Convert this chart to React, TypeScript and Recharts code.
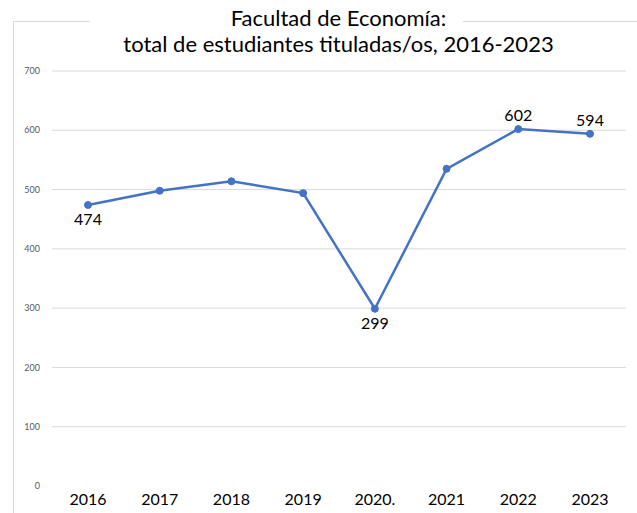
import React from "react";
import { LineChart, Line, XAxis, YAxis, ReferenceLine } from "recharts";

const years = ["2016", "2017", "2018", "2019", "2020.", "2021", "2022", "2023"];
const graduates = [474, 498, 514, 494, 299, 535, 602, 594];
const yTicks = [0, 100, 200, 300, 400, 500, 600, 700];
const titleLines = ["Facultad de Economía:", "total de estudiantes tituladas/os, 2016-2023"];

// which points show a data label, and on which side
const labelSide: Record<string, "above" | "below"> = {
  "2016": "below",
  "2020.": "below",
  "2022": "above",
  "2023": "above",
};

const data = years.map((y, i) => ({ year: y, value: graduates[i] }));

const FONT = "Lato, 'Open Sans', sans-serif";

const renderLabel = (props: any) => {
  const { x, y, value, index } = props;
  const side = labelSide[years[index]];
  if (!side) return null;
  const dy = side === "below" ? 20 : -8;
  return (
    <text x={x} y={y + dy} textAnchor="middle" fontSize={16} fill="#000" fontFamily={FONT}>
      {value}
    </text>
  );
};

export default function App() {
  return (
    <div
      style={{
        position: "absolute",
        left: 0,
        top: 0,
        width: 637,
        height: 513,
        overflow: "hidden",
        background: "#fff",
        fontFamily: FONT,
      }}
    >
      <div
        style={{
          position: "absolute",
          left: 13,
          top: 21,
          width: 800,
          height: 700,
          border: "1px solid #d9d9d9",
        }}
      />
      <div
        style={{
          position: "absolute",
          left: 90,
          top: 15,
          width: 373,
          height: 12,
          background: "#fff",
        }}
      />
      <div
        style={{
          position: "absolute",
          left: 0,
          top: 5,
          width: 677,
          textAlign: "center",
          fontSize: 22,
          lineHeight: "26px",
          color: "#000",
          zIndex: 2,
        }}
      >
        {titleLines.map((t) => (
          <div key={t}>{t}</div>
        ))}
      </div>
      <div style={{ position: "absolute", left: 0, top: 0 }}>
        <LineChart
          width={637}
          height={513}
          data={data}
          margin={{ top: 71, right: 11, left: 0, bottom: 0 }}
        >
          {yTicks
            .filter((t) => t !== 0)
            .map((t) => (
              <ReferenceLine key={t} y={t} stroke="#d9d9d9" strokeWidth={1} ifOverflow="extendDomain" />
            ))}
          <XAxis
            dataKey="year"
            height={27}
            axisLine={false}
            tickLine={false}
            padding={{ left: 36, right: 36 }}
            interval={0}
            tick={{ fontSize: 16, fill: "#000", fontFamily: FONT }}
          />
          <YAxis
            width={52}
            domain={[0, 700]}
            ticks={yTicks}
            axisLine={false}
            tickLine={false}
            tickMargin={6}
            tick={{ fontSize: 9, fill: "#595959", fontFamily: FONT }}
          />
          <Line
            type="linear"
            dataKey="value"
            stroke="#4472C4"
            strokeWidth={2.5}
            dot={{ r: 3.5, fill: "#4472C4", stroke: "#4472C4", strokeWidth: 1 }}
            isAnimationActive={false}
            label={renderLabel}
          />
        </LineChart>
      </div>
    </div>
  );
}
